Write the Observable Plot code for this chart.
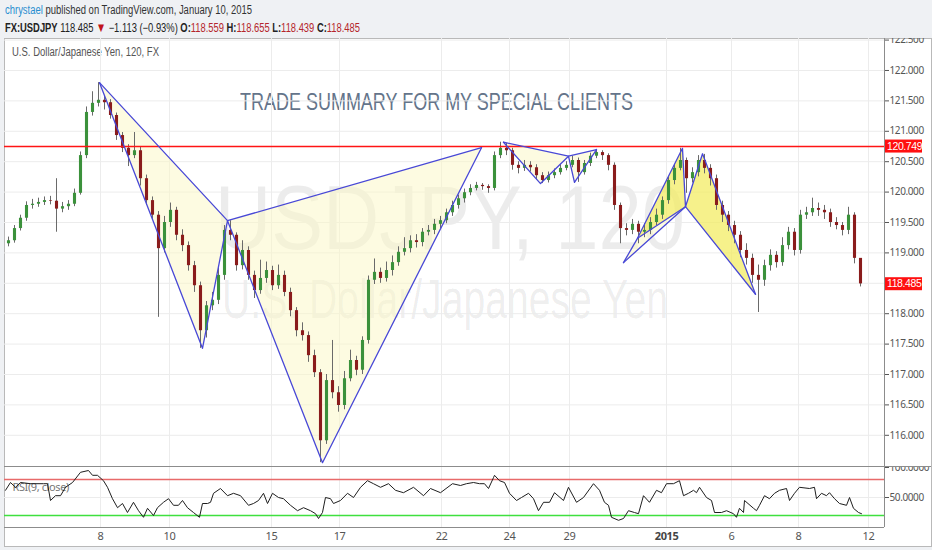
<!DOCTYPE html>
<html><head><meta charset="utf-8">
<script src="https://cdn.jsdelivr.net/npm/d3@7"></script>
<script src="https://cdn.jsdelivr.net/npm/@observablehq/plot@0.6"></script>
<style>
html,body{margin:0;padding:0;background:#eff1f4;}
#page{position:relative;width:932px;height:550px;overflow:hidden;background:#eff1f4;font-family:"Liberation Sans",Arial,sans-serif;}
.abs{position:absolute;white-space:nowrap;line-height:1;transform-origin:0 0;}
#frame{position:absolute;left:4px;top:38px;width:926px;height:507px;background:#fff;border:1px solid #b9b9b9;}
.hl{position:absolute;height:1px;background:#8c8c8c;}
.vl{position:absolute;width:1px;background:#8c8c8c;}
svg.chart{position:absolute;overflow:hidden;}
svg.chart text{letter-spacing:-0.4px;}
.wm{color:rgba(0,0,0,0.075);}
</style></head>
<body><div id="page">
<div id="frame"></div>
<div class="abs wm" id="wm1" style="left:215px;top:173px;font-size:90px;">USDJPY, 120</div>
<div class="abs wm" id="wm2" style="left:222px;top:271px;font-size:56px;">U.S. Dollar/Japanese Yen</div>
<div class="abs" id="h1" style="left:5px;top:4px;font-size:12px;color:#333;"><span style="color:#2a8fd0">chrystael</span> published on TradingView.com, January 10, 2015</div>
<div class="abs" id="h2" style="left:5px;top:21px;font-size:12px;color:#222;"><b>FX:USDJPY</b> 118.485 <span style="color:#c0141b;font-size:13px">▼</span> −1.113 (−0.93%) <b>O:</b><span style="color:#b5262b">118.559</span> <b>H:</b><span style="color:#b5262b">118.655</span> <b>L:</b><span style="color:#b5262b">118.439</span> <b>C:</b><span style="color:#b5262b">118.485</span></div>
<div class="abs" id="lab" style="left:12px;top:46px;font-size:12px;color:#555;">U.S. Dollar/Japanese Yen, 120, FX</div>
<div class="abs" id="title" style="left:240px;top:90px;font-size:24px;color:#64748a;">TRADE SUMMARY FOR MY SPECIAL CLIENTS</div>
</div>
<script>
// ---------- data ----------
const dateTickIdx = [15.33, 26.83, 43.83, 55.17, 72.17, 83.5, 93.5, 109.67, 120.5, 131.67, 143.33];
const dateTickLabels = ["8","10","15","17","22","24","29","2015","6","8","12"];
const priceTicks = [116,116.5,117,117.5,118,118.5,119,119.5,120,120.5,121,121.5,122,122.5];
const rsiTicks = [50, 100];
const firstOpen = 119.15;
const close = [119.20,119.40,119.57,119.78,119.80,119.83,119.86,119.85,119.72,119.76,
119.80,119.98,120.60,121.31,121.46,121.51,121.47,121.26,120.93,120.72,
120.60,120.68,120.22,119.86,119.62,119.07,119.50,119.70,119.29,119.12,
118.79,118.46,117.72,118.13,118.22,118.63,119.37,119.29,118.79,119.04,
118.63,118.38,118.58,118.71,118.46,118.63,118.35,118.05,117.72,117.64,
117.31,117.03,115.91,116.90,116.70,116.49,116.93,117.23,117.07,117.56,
118.55,118.68,118.58,118.71,118.84,119.01,119.07,119.20,119.17,119.34,
119.37,119.47,119.53,119.66,119.78,119.89,119.99,120.06,120.11,120.09,
120.06,120.60,120.72,120.68,120.44,120.39,120.44,120.40,120.27,120.19,
120.27,120.32,120.39,120.44,120.52,120.32,120.47,120.59,120.65,120.60,
120.44,119.78,119.40,119.37,119.47,119.34,119.37,119.50,119.62,119.86,
120.19,120.39,120.52,120.22,120.32,120.52,120.39,120.22,119.78,119.62,
119.45,119.29,119.04,118.91,118.63,118.55,118.79,118.96,118.84,119.12,
119.34,119.04,119.62,119.66,119.73,119.70,119.66,119.50,119.45,119.37,
119.62,118.91,118.49];
const high = [119.26,119.45,119.62,119.84,119.88,119.90,119.92,119.93,120.22,119.83,
119.86,120.05,120.66,121.40,121.65,121.80,121.58,121.52,121.30,120.98,
120.78,120.98,120.74,120.28,119.92,119.68,119.60,119.82,119.75,119.38,
119.18,118.86,118.52,118.20,118.35,118.75,119.45,119.53,119.33,119.20,
119.10,118.70,118.88,118.85,118.78,118.80,118.70,118.42,118.10,117.85,
117.70,117.40,117.08,117.00,117.56,116.80,117.05,117.40,117.30,117.62,
118.62,118.90,118.75,118.85,118.95,119.10,119.25,119.28,119.30,119.40,
119.45,119.55,119.60,119.72,119.85,119.95,120.05,120.12,120.16,120.14,
120.12,120.66,120.82,120.80,120.72,120.50,120.52,120.50,120.45,120.32,
120.33,120.38,120.45,120.50,120.59,120.56,120.52,120.64,120.70,120.68,
120.63,120.48,119.82,119.48,119.55,119.52,119.48,119.58,119.72,119.92,
120.25,120.45,120.72,120.56,120.40,120.60,120.62,120.45,120.28,119.85,
119.68,119.52,119.35,119.15,118.98,118.80,118.88,119.05,119.02,119.25,
119.42,119.40,119.70,119.75,119.90,119.82,119.78,119.72,119.58,119.50,
119.75,119.66,118.66];
const low = [119.10,119.16,119.36,119.52,119.72,119.75,119.78,119.79,119.34,119.66,
119.70,119.76,119.95,120.55,121.25,121.40,121.35,121.20,120.85,120.65,
120.42,120.55,120.10,119.78,119.55,117.94,119.00,119.42,119.20,119.02,
118.70,118.35,117.43,117.60,118.05,118.15,118.55,119.20,118.70,118.72,
118.55,118.25,118.32,118.50,118.38,118.40,118.28,117.95,117.62,117.55,
117.20,116.95,115.55,115.85,116.60,116.38,116.42,116.88,116.98,117.00,
117.50,118.48,118.50,118.52,118.62,118.78,118.95,119.00,119.08,119.10,
119.28,119.30,119.40,119.48,119.60,119.72,119.82,119.94,120.02,120.03,
119.98,120.02,120.55,120.60,120.36,120.30,120.34,120.33,120.20,120.14,
120.15,120.22,120.28,120.35,120.40,120.16,120.28,120.42,120.55,120.52,
120.35,119.70,119.15,119.28,119.30,119.15,119.25,119.30,119.45,119.55,
119.80,120.12,120.35,119.98,120.15,120.25,120.30,120.10,119.70,119.50,
119.35,119.15,118.92,118.80,118.50,118.02,118.45,118.70,118.75,118.78,
119.05,118.95,118.98,119.55,119.60,119.60,119.55,119.42,119.38,119.28,
119.30,118.82,118.44];
const rsiIdx = [-0.5,0.33,1.17,2,3.67,5.83,6.5,7,7.83,8.67,9.5,10.67,12,13.33,14,14.83,15.83,16.5,17.33,18.17,
19,19.83,20.83,21.67,22.5,23.17,24.17,24.83,25.83,26.67,27.5,28.33,29,29.83,30.83,31.83,32.33,33.17,33.67,34.17,
35.33,36.5,37.5,38.67,40,40.83,41.67,42.5,43.17,44,45,45.83,47,48.17,49.17,50.33,51.17,51.67,52.33,52.83,
53.67,54.17,55.33,56.5,57.5,58.67,59.83,60.83,62,63.33,64.5,65.83,67.5,69.17,70.33,72,74,75.33,76.33,77.5,
78.5,79.33,80,80.83,81,81.83,82.67,83.5,84.67,85.5,86.67,87.5,88.33,89.17,90.17,91,92.5,93.33,94.67,95.83,
97.5,98.5,99.33,100,100.5,101.67,102.5,103.33,104.33,105,105.83,106.83,108,108.83,109.67,110.83,111.83,112.5,113.33,114.17,
114.67,115.17,116.33,117.17,117.67,118.83,119.67,120.83,121.33,121.83,122.5,122.67,124.17,124.67,125.17,126,126.83,127.67,128.5,129.67,
130.17,131,131.83,133.5,134.33,134.67,135.5,136.33,136.83,137.67,138.5,139.67,140.17,140.83,141.67,142.17];
const rsiVal = [62,75,67,75,73,73,73,45,53,53,67,75,92,95,87,87,78,67,48,33,
40,25,42,28,17,32,20,33,42,48,37,37,45,33,25,17,40,40,42,57,
65,53,57,53,37,40,45,57,40,57,50,48,37,28,33,28,23,15,25,50,
48,40,45,57,50,67,78,73,67,73,62,58,67,53,65,58,73,70,73,75,
73,73,65,83,87,78,75,57,45,50,57,48,28,42,42,58,45,67,42,50,
73,62,42,37,17,12,15,28,25,23,53,42,62,58,73,73,78,53,57,62,
58,67,50,45,25,25,28,23,17,32,25,45,32,28,37,53,48,57,62,65,
45,57,67,65,67,48,57,53,58,48,40,37,50,32,25,23];
const resistance = 120.749;
const lastPrice = 118.485;
// harmonic pattern pivots (bar index, price)
const pat1Idx = [15.17, 32.33, 36.5, 52.33, 78.83];
const pat1Price = [121.80, 117.43, 119.53, 115.55, 120.73];
const pat2Idx = [82.5, 88.67, 93.33, 94.33, 98.0];
const pat2Price = [120.82, 120.14, 120.59, 120.16, 120.70];
const pat3Idx = [102.5, 104.83, 112.33, 112.83, 115.67, 124.5];
const pat3Price = [118.84, 119.24, 120.72, 119.76, 120.63, 118.32];

// ---------- build tables ----------
const candles = close.map((c, i) => ({i, o: i ? close[i-1] : firstOpen, c, h: high[i], l: low[i]}));
const rsiData = rsiIdx.map((x, k) => ({i: x, v: rsiVal[k]}));
function poly(ids, pr, order, id){ return order.map(k => ({i: ids[k], p: pr[k], id})); }
const patLines = [
  ...poly(pat1Idx, pat1Price, [0,1,2,3,4], "p1a"), ...poly(pat1Idx, pat1Price, [0,2,4], "p1b"),
  ...poly(pat2Idx, pat2Price, [0,1,2,3,4], "p2a"), ...poly(pat2Idx, pat2Price, [0,2,4], "p2b"),
  ...poly(pat3Idx, pat3Price, [0,1,2,3,4,5], "p3a"), ...poly(pat3Idx, pat3Price, [0,3], "p3b"),
  ...poly(pat3Idx, pat3Price, [1,3], "p3c"), ...poly(pat3Idx, pat3Price, [3,5], "p3d")
];
const fillPale = [
  ...poly(pat1Idx, pat1Price, [0,1,2], "f1"), ...poly(pat1Idx, pat1Price, [2,3,4], "f2"),
  ...poly(pat2Idx, pat2Price, [0,1,2], "f3"), ...poly(pat2Idx, pat2Price, [2,3,4], "f4"),
  ...poly(pat3Idx, pat3Price, [0,1,3], "f5")
];
const fillBright = [
  ...poly(pat3Idx, pat3Price, [1,2,3], "b1"), ...poly(pat3Idx, pat3Price, [3,4,5], "b2")
];
// tick labels hidden behind the last-price box (as on the reference)
const priceTickLabels = priceTicks.filter(t => Math.abs(t - lastPrice) > 0.1);

const xDomain = [-0.667, 146];
const page = document.getElementById("page");

// ---------- main price panel ----------
const main = Plot.plot({
  width: 932, height: 428,
  marginLeft: 4, marginRight: 48, marginTop: 0, marginBottom: 0,
  className: "chart",
  style: {background: "transparent", position: "absolute", left: "0px", top: "38px"},
  x: {domain: xDomain, axis: null},
  y: {domain: [115.487, 122.526], axis: null},
  marks: [
    Plot.gridY(priceTicks, {stroke: "#ececec", strokeOpacity: 1}),
    Plot.gridX(dateTickIdx, {stroke: "#ececec", strokeOpacity: 1}),
    Plot.line(fillPale, {x: "i", y: "p", z: "id", fill: "#fbf8c4", fillOpacity: 0.5, stroke: "none", curve: "linear-closed"}),
    Plot.line(fillBright, {x: "i", y: "p", z: "id", fill: "#f2ec5e", fillOpacity: 0.72, stroke: "none", curve: "linear-closed"}),
    Plot.ruleX(candles, {x: "i", y1: "l", y2: "h", stroke: "#6a6a6a", strokeWidth: 1}),
    Plot.ruleX(candles, {filter: d => d.c >= d.o, x: "i", y1: "o", y2: "c", stroke: "#3b913b", strokeWidth: 3.1}),
    Plot.ruleX(candles, {filter: d => d.c < d.o, x: "i", y1: "o", y2: "c", stroke: "#8a1c1c", strokeWidth: 3.1}),
    Plot.ruleY([resistance], {stroke: "#ff1414", strokeWidth: 1.6}),
    Plot.line(patLines, {x: "i", y: "p", z: "id", stroke: "#4848d6", strokeWidth: 1.3}),
    Plot.axisY(priceTickLabels, {anchor: "right", label: null, tickSize: 4, tickPadding: 1, tickFormat: d => d.toFixed(3), fontSize: 10, color: "#555"})
  ]
});
page.appendChild(main);
// red price labels on the axis
const ys = main.scale("y");
const sel = d3.select(main);
[resistance, lastPrice].forEach(v => {
  const yy = ys.apply(v);
  sel.append("rect").attr("x", 885).attr("y", yy - 6.5).attr("width", 37).attr("height", 13).attr("fill", "#ff1010");
  sel.append("text").attr("x", 887).attr("y", yy).attr("dy", "0.35em").attr("fill", "#fff")
    .attr("text-anchor", "start").attr("font-size", 10.5)
    .attr("font-family", "Liberation Sans, Arial, sans-serif").text(v.toFixed(3));
});

// ---------- RSI panel + date axis ----------
const rsi = Plot.plot({
  width: 932, height: 80,
  marginLeft: 4, marginRight: 48, marginTop: 1, marginBottom: 19,
  className: "chart",
  style: {background: "transparent", position: "absolute", left: "0px", top: "466px"},
  x: {domain: xDomain, axis: null},
  y: {domain: [0, 100], axis: null},
  marks: [
    Plot.gridX(dateTickIdx, {stroke: "#ececec", strokeOpacity: 1}),
    Plot.gridY([50], {stroke: "#ececec", strokeOpacity: 1}),
    Plot.text(["RSI(9, close)"], {frameAnchor: "top-left", dx: 8, dy: 16, fill: "#777", fontSize: 11, textAnchor: "start"}),
    Plot.ruleY([80], {stroke: "#e86a6a", strokeWidth: 1.4}),
    Plot.ruleY([20], {stroke: "#3fe03f", strokeWidth: 1.4}),
    Plot.line(rsiData, {x: "i", y: "v", stroke: "#1e1e1e", strokeWidth: 1}),
    Plot.axisY(rsiTicks, {anchor: "right", label: null, tickSize: 4, tickPadding: 1, tickFormat: d => d.toFixed(4), fontSize: 10, color: "#555"}),
    Plot.axisX(dateTickIdx.filter((d, k) => dateTickLabels[k] !== "2015"), {anchor: "bottom", label: null, tickSize: 0, tickPadding: 5, fontSize: 11, color: "#555",
      tickFormat: d => dateTickLabels[dateTickIdx.indexOf(d)]}),
    Plot.axisX(dateTickIdx.filter((d, k) => dateTickLabels[k] === "2015"), {anchor: "bottom", label: null, tickSize: 0, tickPadding: 5, fontSize: 11, color: "#444", fontWeight: "bold",
      tickFormat: d => dateTickLabels[dateTickIdx.indexOf(d)]})
  ]
});
page.appendChild(rsi);

// panel border lines
function line(cls, css){ const d = document.createElement("div"); d.className = cls; Object.assign(d.style, css); page.appendChild(d); }
line("vl", {left: "884px", top: "38px", height: "489px"});
line("hl", {left: "4px", top: "466px", width: "927px"});
line("hl", {left: "4px", top: "527px", width: "880px"});

// fit horizontally-squeezed texts to the widths seen in the reference
function fit(id, w){ const el = document.getElementById(id); const r = el.getBoundingClientRect().width; el.style.transform = `scaleX(${w / r})`; }
fit("h1", 247); fit("h2", 355); fit("lab", 147); fit("title", 393); fit("wm1", 470); fit("wm2", 446);
</script>
</body></html>
